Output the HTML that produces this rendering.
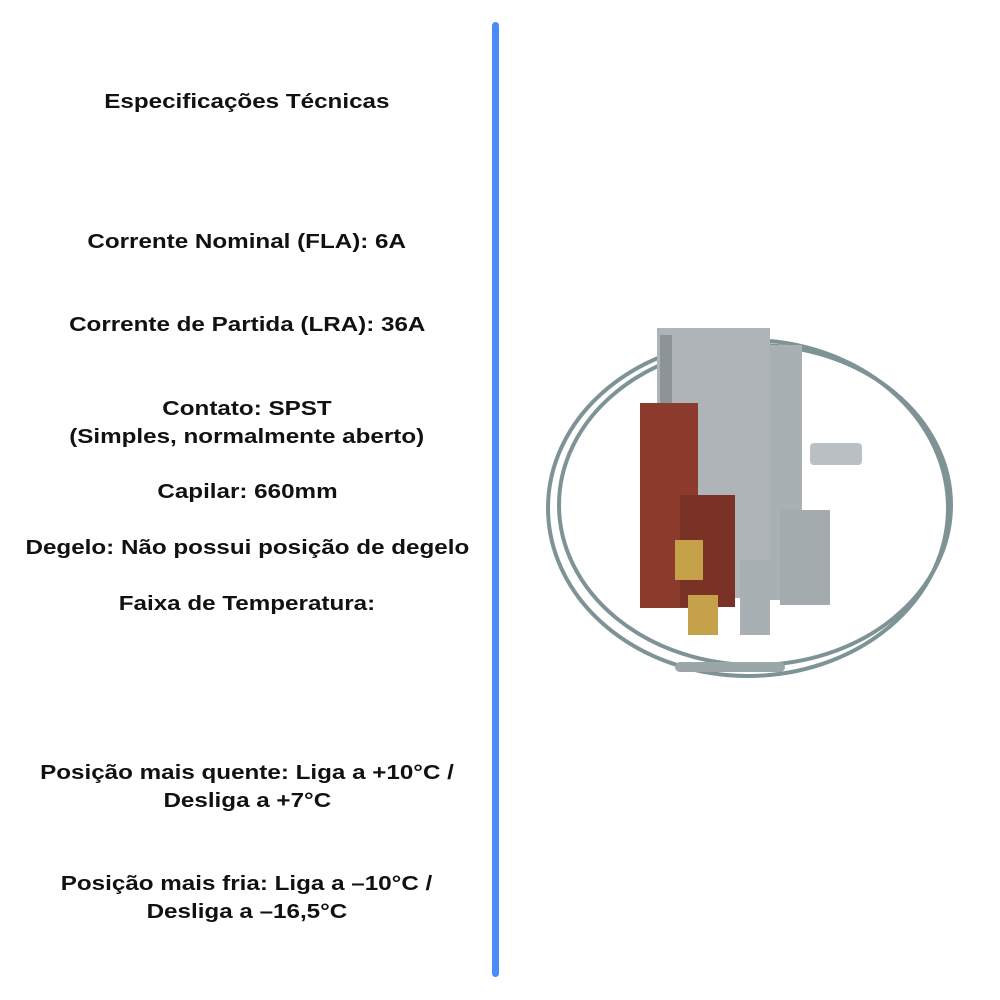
<!DOCTYPE html>
<html><head><meta charset="utf-8"><style>
body{margin:0;width:1000px;height:1000px;background:#fff;position:relative;font-family:"Liberation Sans",sans-serif;font-weight:bold;font-size:20px;color:#111;}
.t{position:absolute;left:-100px;width:694px;text-align:center;line-height:28px;}
.t span{display:inline-block;transform:scaleX(1.21);}
.bar{position:absolute;left:492px;top:22px;width:7px;height:955px;background:#4a8cf7;border-radius:4px;}
</style></head><body>
<div class="t" style="top:88px"><span>Especificações Técnicas</span></div>
<div class="t" style="top:228px"><span>Corrente Nominal (FLA): 6A</span></div>
<div class="t" style="top:311px"><span>Corrente de Partida (LRA): 36A</span></div>
<div class="t" style="top:395px"><span>Contato: SPST</span><br><span>(Simples, normalmente aberto)</span></div>
<div class="t" style="top:478px"><span>Capilar: 660mm</span></div>
<div class="t" style="top:534px"><span>Degelo: Não possui posição de degelo</span></div>
<div class="t" style="top:590px"><span>Faixa de Temperatura:</span></div>
<div class="t" style="top:759px"><span>Posição mais quente: Liga a +10°C /</span><br><span>Desliga a +7°C</span></div>
<div class="t" style="top:870px"><span>Posição mais fria: Liga a –10°C /</span><br><span>Desliga a –16,5°C</span></div>
<div class="bar"></div>
<svg style="position:absolute;left:0;top:0" width="1000" height="1000">
<g fill="none" stroke="#7e9395" stroke-width="4">
<ellipse cx="748" cy="508" rx="200" ry="168"/>
<ellipse cx="755" cy="505" rx="196" ry="160"/>
</g>
<rect x="675" y="662" width="110" height="10" rx="5" fill="#9aa6a8"/>
<rect x="770" y="345" width="32" height="255" fill="#a9b0b3"/>
<rect x="780" y="510" width="50" height="95" fill="#a4abae"/>
<rect x="810" y="443" width="52" height="22" rx="4" fill="#b9bfc2"/>
<rect x="657" y="328" width="113" height="270" fill="#aeb4b8"/>
<rect x="740" y="560" width="30" height="75" fill="#a9b0b3"/>
<rect x="660" y="335" width="12" height="70" fill="#8d9498"/>
<rect x="640" y="403" width="58" height="205" fill="#8c3a2c"/>
<rect x="680" y="495" width="55" height="112" fill="#7a3126"/>
<rect x="675" y="540" width="28" height="40" fill="#c5a24a"/>
<rect x="688" y="595" width="30" height="40" fill="#c5a24a"/>
</svg>
</body></html>
